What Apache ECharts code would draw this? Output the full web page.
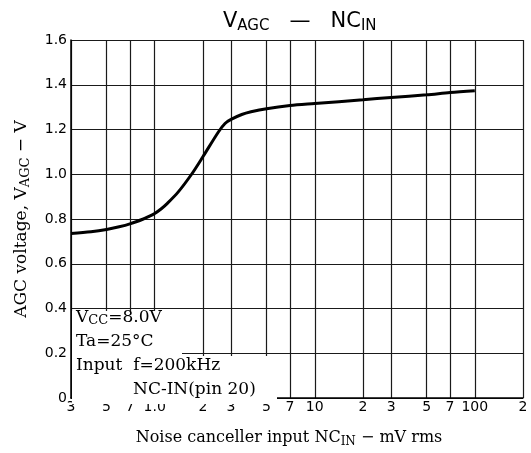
<!DOCTYPE html>
<html>
<head>
<meta charset="utf-8">
<script src="https://cdn.jsdelivr.net/npm/echarts@6/dist/echarts.min.js"></script>
<style>html,body{margin:0;padding:0;background:#fff}#c{width:531px;height:453px}</style>
</head>
<body>
<div id="c"></div>
<script>
// Data
const xTicks = [0.3, 0.5, 0.7, 1, 2, 3, 5, 7, 10, 20, 30, 50, 70, 100, 200];
const xTickLabels = ['3', '5', '7', '1.0', '2', '3', '5', '7', '10', '2', '3', '5', '7', '100', '2'];
const ncIn = [0.3, 0.4, 0.5, 0.6, 0.7, 0.85, 0.9, 1.0, 1.1, 1.2, 1.4, 1.7, 2.0, 2.5, 2.75, 3.0, 3.5, 4.0, 5.0, 7.0, 10, 20, 30, 50, 70, 100];
const vAgc = [0.735, 0.743, 0.753, 0.765, 0.778, 0.80, 0.808, 0.825, 0.846, 0.870, 0.920, 1.0, 1.078, 1.189, 1.227, 1.245, 1.267, 1.279, 1.293, 1.307, 1.316, 1.333, 1.343, 1.355, 1.365, 1.373];
const yMin = 0, yMax = 1.6, yStep = 0.2;

const chart = echarts.init(document.getElementById('c'), null, {renderer: 'canvas'});
const sans = 'DejaVu Sans';
const serif = 'DejaVu Serif';
const gridColor = '#1a1a1a';

function xLabel(v) {
  const i = xTicks.findIndex(t => Math.abs(t - v) / t < 1e-6);
  return i >= 0 ? xTickLabels[i] : '';
}

chart.setOption({
  animation: false,
  backgroundColor: '#fff',
  grid: {left: 71, right: 8, top: 40, bottom: 48, containLabel: false},
  xAxis: {
    type: 'log', logBase: 10, min: 0.3, max: 200,
    axisLine: {show: true, onZero: false, lineStyle: {color: '#000', width: 1.5}},
    axisTick: {show: false, customValues: xTicks},
    axisLabel: {customValues: xTicks, formatter: xLabel, color: '#000', fontFamily: sans, fontSize: 14, margin: 2, hideOverlap: false, showMinLabel: true, showMaxLabel: true},
    splitLine: {show: true, lineStyle: {color: gridColor, width: 1.2}},
    minorTick: {show: false}, minorSplitLine: {show: false},
    name: '{t|Noise canceller input NC}{s|IN}{t| − mV rms}',
    nameLocation: 'middle', nameGap: 30,
    nameTextStyle: {padding: [0, 16, 0, 0], rich: {
      t: {fontFamily: serif, fontSize: 16, color: '#000', lineHeight: 20},
      s: {fontFamily: serif, fontSize: 12, color: '#000', lineHeight: 8, verticalAlign: 'bottom'}
    }}
  },
  yAxis: {
    type: 'value', min: yMin, max: yMax, interval: yStep,
    axisLine: {show: true, lineStyle: {color: '#000', width: 1.5}},
    axisTick: {show: false},
    axisLabel: {color: '#000', fontFamily: sans, fontSize: 14, margin: 4,
      formatter: v => (Math.abs(v) < 1e-9 ? '0' : v.toFixed(1))},
    splitLine: {show: true, lineStyle: {color: gridColor, width: 1.2}},
    name: '{t|AGC voltage, V}{s|AGC}{t| − V}',
    nameLocation: 'middle', nameGap: 39, nameRotate: 90,
    nameTextStyle: {rich: {
      t: {fontFamily: serif, fontSize: 17, color: '#000', lineHeight: 20},
      s: {fontFamily: serif, fontSize: 13, color: '#000', lineHeight: 8, verticalAlign: 'bottom'}
    }}
  },
  series: [{
    type: 'line', smooth: 0.3, showSymbol: false, z: 10,
    data: ncIn.map((x, i) => [x, vAgc[i]]),
    lineStyle: {color: '#000', width: 3}
  }],
  graphic: [
    {type: 'rect', z: 50, shape: {x: 72, y: 311, width: 110, height: 93}, style: {fill: '#fff'}},
    {type: 'rect', z: 50, shape: {x: 182, y: 356, width: 95, height: 48}, style: {fill: '#fff'}},
    {type: 'text', z: 60, left: 223, top: 11, style: {
      text: '{v|V}{s|AGC}{v|   —   NC}{s|IN}',
      rich: {
        v: {fontFamily: sans, fontSize: 21, fill: '#000', lineHeight: 24},
        s: {fontFamily: sans, fontSize: 15, fill: '#000', lineHeight: 10, verticalAlign: 'bottom'}
      }
    }},
    {type: 'text', z: 60, left: 76, top: 309, style: {
      text: '{t|V}{s|CC}{t|=8.0V}',
      rich: {
        t: {fontFamily: serif, fontSize: 17, fill: '#000', lineHeight: 20},
        s: {fontFamily: serif, fontSize: 13, fill: '#000', lineHeight: 10, verticalAlign: 'bottom'}
      }
    }},
    {type: 'text', z: 60, left: 76, top: 333, style: {text: 'Ta=25°C', fontFamily: serif, fontSize: 17, fill: '#000'}},
    {type: 'text', z: 60, left: 76, top: 357, style: {text: 'Input  f=200kHz', fontFamily: serif, fontSize: 17, fill: '#000'}},
    {type: 'text', z: 60, left: 133, top: 381, style: {text: 'NC-IN(pin 20)', fontFamily: serif, fontSize: 17, fill: '#000'}}
  ]
});
</script>
</body>
</html>
